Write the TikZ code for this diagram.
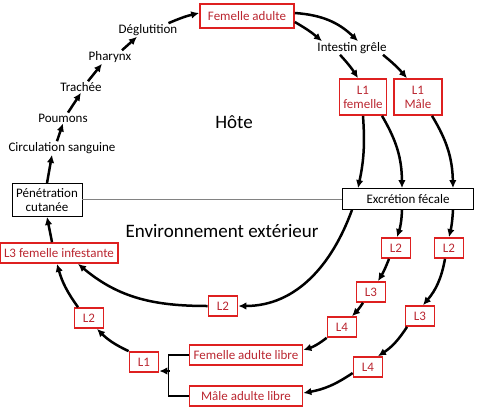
\documentclass[tikz,border=0pt]{standalone}
\usepackage{fontspec}
\setmainfont{Carlito}
\usetikzlibrary{arrows.meta, positioning}
\definecolor{boxred}{RGB}{222,32,32}
\definecolor{textred}{RGB}{186,38,48}
\definecolor{linegray}{RGB}{130,130,130}

\begin{document}
\begin{tikzpicture}[x=1pt, y=1pt,
    every node/.style={font=\fontsize{13}{14}\selectfont},
    redbox/.style={draw=boxred, line width=1.7pt, text=textred, inner xsep=4pt, inner ysep=2pt, minimum height=20pt},
    larva/.style={redbox, minimum width=29pt},
    organ/.style={inner sep=1pt},
    hostbox/.style={draw, line width=0.8pt, inner xsep=3pt, inner ysep=2pt, align=center},
    zone/.style={font=\fontsize{19}{22}\selectfont},
    arr/.style={-{Latex[length=8pt, width=7.5pt]}, line width=2.5pt}]
    \useasboundingbox (0,0) rectangle (478,-418);

    % Host side
    \node[redbox, minimum width=94pt, minimum height=24pt] (femA) at (247,-16) {Femelle adulte};
    \node[organ] (degl) at (148,-30) {Déglutition};
    \node[organ] (phar) at (110,-57) {Pharynx};
    \node[organ] (trach) at (81,-87) {Trachée};
    \node[organ] (poum) at (63,-118) {Poumons};
    \node[organ] (circ) at (62,-148) {Circulation sanguine};
    \node[hostbox, minimum width=70pt, minimum height=33pt] (pene) at (47,-200) {Pénétration\\cutanée};
    \node[organ] (intestin) at (352,-48) {Intestin grêle};
    \node[redbox, align=center, inner xsep=3pt, minimum width=47pt, minimum height=36pt] (L1f) at (363,-97) {L1\\femelle};
    \node[redbox, align=center, minimum width=48pt, minimum height=36pt] (L1m) at (418,-97) {L1\\Mâle};
    \node[hostbox, minimum width=131pt, minimum height=21pt] (excr) at (408,-199) {Excrétion fécale};

    % Zone labels
    \node[zone] (hote) at (234,-122) {Hôte};
    \node[zone] (ext) at (222,-231) {Environnement extérieur};

    % Outside
    \node[redbox] (L3inf) at (59,-253) {L3 femelle infestante};
    \node[larva] (L2g) at (89,-318) {L2};
    \node[larva] (L1b) at (144,-362) {L1};
    \node[larva] (L2m) at (223,-306) {L2};
    \node[redbox, minimum width=113pt] (femL) at (246,-355) {Femelle adulte libre};
    \node[redbox, minimum width=113pt] (malL) at (246,-396) {Mâle adulte libre};
    \node[larva] (L2a) at (396,-248) {L2};
    \node[larva] (L3a) at (371,-292) {L3};
    \node[larva] (L4a) at (342,-327) {L4};
    \node[larva] (L2b) at (449,-248) {L2};
    \node[larva] (L3b) at (420,-316) {L3};
    \node[larva] (L4b) at (368,-367) {L4};

    % Skin line
    \draw[linegray, line width=0.8pt] (pene.east |- excr.west) -- (excr.west);

    % Migration in the host
    \draw[arr] (pene.north) -- ([xshift=-10pt]circ.south);
    \draw[arr] ([xshift=-5pt]circ.north) -- (poum.south);
    \draw[arr] ([xshift=5pt]poum.north) -- (trach.south);
    \draw[arr] ([xshift=7pt]trach.north) -- ([xshift=-8pt]phar.south);
    \draw[arr] ([xshift=12pt]phar.north) -- ([xshift=-11pt]degl.south);
    \draw[arr] ([xshift=-10pt]degl.north east) to[bend left=5] ([yshift=3pt]femA.west);
    \draw[arr] ([yshift=-6pt]femA.east) to[bend left=5] ([xshift=-30pt]intestin.north);
    \draw[arr] ([yshift=3pt]femA.east) to[bend left=20] ([xshift=6pt]intestin.north);
    \draw[arr] ([xshift=-12pt]intestin.south) to[bend left=5] ([xshift=-5pt]L1f.north);
    \draw[arr] ([xshift=31pt]intestin.south) to[bend left=5] ([xshift=-11pt]L1m.north);
    \draw[arr] (L1f.south) to[bend left=8] ([xshift=-50pt]excr.north);
    \draw[arr] ([xshift=19pt]L1f.south) to[bend left=15] ([xshift=-6pt]excr.north);
    \draw[arr] ([xshift=14pt]L1m.south) to[bend left=15] ([xshift=45pt]excr.north);

    % Parthenogenetic cycle
    \draw[arr] ([xshift=-56pt]excr.south) to[out=-110, in=0] (L2m.east);
    \draw[arr] (L2m.west) to[out=180, in=-40] ([xshift=19pt]L3inf.south);
    \draw[arr] ([xshift=-7pt]L3inf.north) -- (pene.south);

    % Free-living cycle
    \draw[arr] ([xshift=-6pt]excr.south) to[bend left=8] ([xshift=1pt]L2a.north);
    \draw[arr] ([xshift=-7pt]L2a.south) to[bend left=5] ([xshift=7pt]L3a.north);
    \draw[arr] ([xshift=-8pt]L3a.south) to[bend left=5] ([xshift=10pt]L4a.north);
    \draw[arr] (L4a.south west) to[bend left=10] ([yshift=5pt]femL.east);
    \draw[arr] ([xshift=45pt]excr.south) to[bend left=5] (L2b.north);
    \draw[arr] ([xshift=-4pt]L2b.south) to[bend left=15] ([xshift=3pt]L3b.north);
    \draw[arr] ([xshift=-13pt]L3b.south) to[bend left=12] ([xshift=10pt]L4b.north);
    \draw[arr] ([yshift=-6pt]L4b.west) to[bend left=12] ([yshift=3pt]malL.east);

    % Mating
    \coordinate (brk) at (169.5,-371);
    \draw[line width=1.5pt] (femL.west) -- ++(-20,0) |- (malL.west);
    \draw[arr] (brk) -- (brk -| L1b.east);
    \draw[arr] (L1b.north west) to[bend left=10] ([xshift=8pt]L2g.south);
    \draw[arr] ([xshift=-11pt]L2g.north) to[bend left=10] ([xshift=-2pt]L3inf.south);
\end{tikzpicture}
\end{document}
